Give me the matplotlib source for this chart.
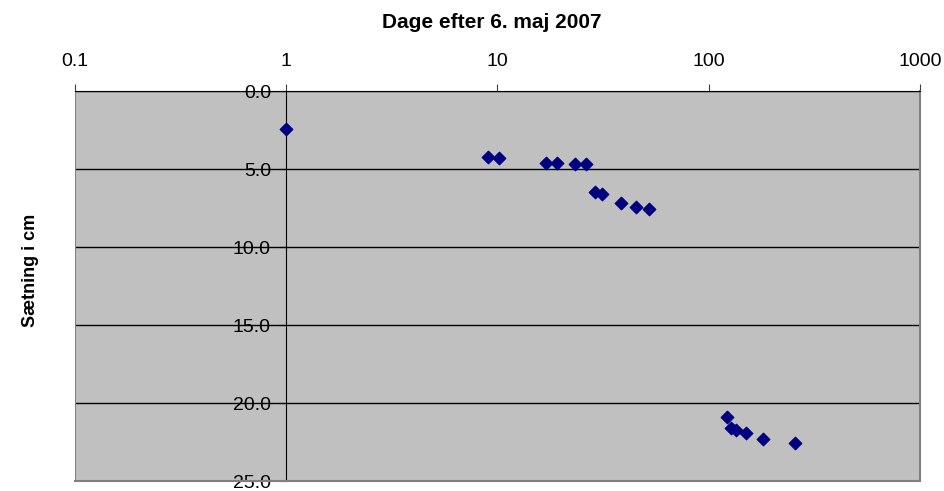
import matplotlib.pyplot as plt
from matplotlib.ticker import FixedLocator, FuncFormatter

plt.rcParams['font.family'] = ['Liberation Sans', 'DejaVu Sans']

# Data
days = [1, 9, 10.2, 17, 19.2, 23.2, 26.2, 28.9, 31.2, 38.3, 45.4, 52,
        122, 128, 135, 150, 180, 257]
settlement = [2.44, 4.2, 4.32, 4.62, 4.62, 4.7, 4.7, 6.45, 6.58, 7.16, 7.46, 7.56,
              20.88, 21.6, 21.7, 21.9, 22.3, 22.55]

x_ticks = [0.1, 1, 10, 100, 1000]
x_labels = ['0.1', '1', '10', '100', '1000']
y_ticks = [0, 5, 10, 15, 20, 25]

fig = plt.figure(figsize=(9.45, 4.91), dpi=100)
ax = fig.add_axes([75 / 945, 10 / 491, 845 / 945, 390 / 491])
ax.set_facecolor('#C0C0C0')

ax.scatter(days, settlement, marker='D', s=40, color='#000080', zorder=5, clip_on=False)

ax.set_xscale('log')
ax.set_xlim(0.1, 1000)
ax.set_ylim(25, 0)

ax.xaxis.set_major_locator(FixedLocator(x_ticks))
ax.xaxis.set_minor_locator(FixedLocator([]))
ax.xaxis.set_major_formatter(FuncFormatter(lambda v, p: x_labels[x_ticks.index(v)] if v in x_ticks else ''))
ax.xaxis.tick_top()
ax.tick_params(axis='x', direction='out', length=5, width=0.8, color='#404040',
               labelsize=14, pad=10)

ax.set_yticks(y_ticks)
ax.set_yticklabels(['%.1f' % v for v in y_ticks])
ax.tick_params(axis='y', direction='out', length=5, width=0.8, labelsize=14, pad=6)

for v in y_ticks[:-1]:
    ax.axhline(v, color='black', lw=1, zorder=1)

ax.spines['left'].set_position(('data', 1))
ax.spines['left'].set_color('black')
ax.spines['left'].set_zorder(2)
ax.spines['top'].set_color('black')
ax.spines['right'].set_color('#808080')
ax.spines['right'].set_linewidth(1.5)
ax.spines['bottom'].set_color('#808080')
ax.spines['bottom'].set_linewidth(1.5)

# gray border on the left edge of the plot area
ax.axvline(0.1, color='#808080', lw=1.5, zorder=1)

fig.text(492 / 945, 1 - 23 / 491, 'Dage efter 6. maj 2007', ha='center', va='center',
         fontsize=15, fontweight='bold')
fig.text(31 / 945, 1 - 270 / 491, 'Sætning i cm', ha='center', va='center',
         rotation=90, fontsize=13, fontweight='bold')

fig.savefig('out.png', dpi=100)
